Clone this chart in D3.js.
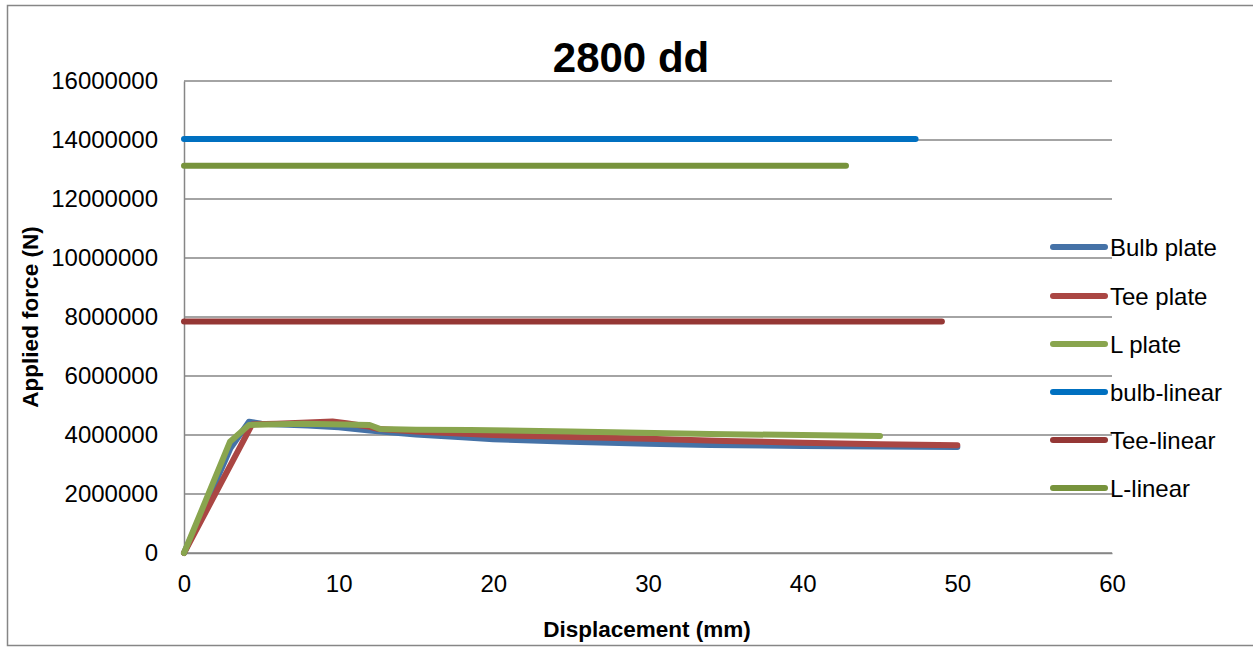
<!DOCTYPE html>
<html>
<head>
<meta charset="utf-8">
<script src="https://cdn.jsdelivr.net/npm/d3@7"></script>
<style>
  html, body { margin: 0; padding: 0; background: #fff; }
  svg { display: block; }
  text { font-family: "Liberation Sans", Arial, sans-serif; fill: #000; }
</style>
</head>
<body>
<div id="chart"></div>
<script>
// ---- data ----
const title = "2800 dd";
const xTicks = [0, 10, 20, 30, 40, 50, 60];
const yTicks = [0, 2000000, 4000000, 6000000, 8000000, 10000000, 12000000, 14000000, 16000000];

const bulbX = [0, 1.5, 3, 4.2, 5, 8, 10, 12, 15, 18, 20, 25, 30, 34, 40, 45, 50];
const bulbY = [0, 1750000, 3550000, 4450000, 4380000, 4320000, 4260000, 4150000, 4020000, 3920000, 3860000, 3770000, 3700000, 3660000, 3630000, 3610000, 3590000];

const teeX = [0, 4.4, 6, 8, 9.6, 10.5, 12, 12.6, 15, 18.5, 20, 25, 30, 35, 40, 45, 50];
const teeY = [0, 4360000, 4380000, 4420000, 4460000, 4400000, 4280000, 4200000, 4120000, 4030000, 4000000, 3930000, 3870000, 3800000, 3740000, 3690000, 3650000];

const lX = [0, 1.5, 2.97, 4.2, 7.7, 12.0, 12.7, 15, 18.5, 25, 34, 40, 45];
const lY = [0, 1900000, 3770000, 4340000, 4380000, 4340000, 4200000, 4180000, 4170000, 4120000, 4030000, 4000000, 3970000];

const bulbLinX = [0, 47.3];
const bulbLinY = [14030000, 14030000];
const teeLinX = [0, 49.0];
const teeLinY = [7850000, 7850000];
const lLinX = [0, 42.8];
const lLinY = [13130000, 13130000];

const seriesNames = ["Bulb plate", "Tee plate", "L plate", "bulb-linear", "Tee-linear", "L-linear"];
const seriesColors = ["#4572A7", "#AA4643", "#89A54E", "#0070C0", "#953735", "#77933C"];
const seriesXs = [bulbX, teeX, lX, bulbLinX, teeLinX, lLinX];
const seriesYs = [bulbY, teeY, lY, bulbLinY, teeLinY, lLinY];

// ---- layout ----
const W = 1253, H = 647;
const plot = { left: 184, right: 1112, top: 81, bottom: 553 };

const svg = d3.select("#chart").append("svg").attr("width", W).attr("height", H);

// outer frame
svg.append("rect").attr("x", 7.5).attr("y", 5.5).attr("width", 1250).attr("height", 640)
  .attr("fill", "#fff").attr("stroke", "#868686").attr("stroke-width", 1.5);

const x = d3.scaleLinear().domain([0, 60]).range([plot.left, plot.right]);
const y = d3.scaleLinear().domain([0, 16000000]).range([plot.bottom, plot.top]);

// gridlines
svg.append("g").selectAll("line").data(yTicks).join("line")
  .attr("x1", plot.left).attr("x2", plot.right)
  .attr("y1", d => y(d)).attr("y2", d => y(d))
  .attr("stroke", "#868686").attr("stroke-width", 1.5);

// axes
const yAxis = d3.axisLeft(y).tickValues(yTicks).tickSize(0).tickPadding(26).tickFormat(d3.format("d"));
const gy = svg.append("g").attr("transform", `translate(${plot.left},0)`).call(yAxis);
gy.select(".domain").attr("stroke", "#868686").attr("stroke-width", 1.5);
gy.selectAll("text").style("font-size", "24px").style("font-family", "'Liberation Sans', Arial, sans-serif").attr("fill", "#000");

const xAxis = d3.axisBottom(x).tickValues(xTicks).tickSize(0).tickPadding(22).tickFormat(d3.format("d"));
const gx = svg.append("g").attr("transform", `translate(0,${plot.bottom})`).call(xAxis);
gx.select(".domain").attr("stroke", "#868686").attr("stroke-width", 1.5);
gx.selectAll("text").style("font-size", "24px").style("font-family", "'Liberation Sans', Arial, sans-serif").attr("fill", "#000");

// series
const line = d3.line().x(d => x(d[0])).y(d => y(d[1]));
seriesNames.forEach((name, i) => {
  const pts = seriesXs[i].map((xv, j) => [xv, seriesYs[i][j]]);
  svg.append("path").datum(pts)
    .attr("d", line)
    .attr("fill", "none")
    .attr("stroke", seriesColors[i])
    .attr("stroke-width", 6)
    .attr("stroke-linejoin", "round")
    .attr("stroke-linecap", "round");
});

// legend
const legendYs = [247, 296, 344, 392, 440, 488];
const lg = svg.append("g");
seriesNames.forEach((name, i) => {
  lg.append("line").attr("x1", 1053).attr("x2", 1105)
    .attr("y1", legendYs[i]).attr("y2", legendYs[i])
    .attr("stroke", seriesColors[i]).attr("stroke-width", 6).attr("stroke-linecap", "round");
  lg.append("text").attr("x", 1110).attr("y", legendYs[i] + 8.5)
    .style("font-size", "24px").text(name);
});

// titles
svg.append("text").attr("x", 631).attr("y", 72).attr("text-anchor", "middle")
  .style("font-size", "42px").style("font-weight", "bold").text(title);
svg.append("text").attr("x", 647).attr("y", 637).attr("text-anchor", "middle")
  .style("font-size", "22.5px").style("font-weight", "bold").text("Displacement (mm)");
svg.append("text").attr("transform", "translate(38,317) rotate(-90)").attr("text-anchor", "middle")
  .style("font-size", "22.5px").style("font-weight", "bold").text("Applied force (N)");
</script>
</body>
</html>
